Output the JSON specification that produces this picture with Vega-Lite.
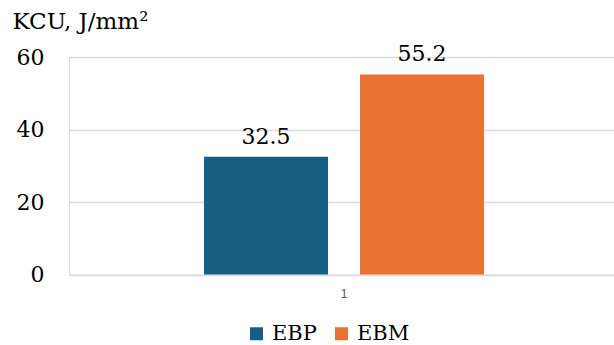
{
  "$schema": "https://vega.github.io/schema/vega-lite/v6.json",
  "autosize": {"type": "none"},
  "padding": {"left": 69, "top": 57, "right": 0, "bottom": 70.5},
  "width": 550,
  "height": 217.5,
  "background": "white",
  "data": {
    "values": [
      {"cat": "1", "series": "EBP", "value": 32.5},
      {"cat": "1", "series": "EBM", "value": 55.2}
    ]
  },
  "encoding": {
    "x": {
      "field": "cat",
      "type": "nominal",
      "scale": {"paddingOuter": 0.482, "paddingInner": 0},
      "axis": {
        "title": null,
        "labelAngle": 0,
        "ticks": false,
        "domain": false,
        "labelFont": "Liberation Sans",
        "labelFontSize": 12,
        "labelColor": "#595959",
        "labelPadding": 14
      }
    },
    "xOffset": {
      "field": "series",
      "type": "nominal",
      "sort": ["EBP", "EBM"],
      "scale": {"paddingInner": 0.205, "paddingOuter": 0}
    },
    "y": {
      "field": "value",
      "type": "quantitative",
      "scale": {"domain": [0, 60], "nice": false},
      "axis": {
        "values": [0, 20, 40, 60],
        "grid": true,
        "gridColor": "#d9d9d9",
        "gridWidth": 1.3,
        "domain": false,
        "ticks": false,
        "labelFont": "DejaVu Serif",
        "labelFontSize": 22,
        "labelColor": "#000000",
        "labelPadding": 25,
        "title": "KCU, J/mm²",
        "titleAngle": 0,
        "titleAlign": "left",
        "titleBaseline": "alphabetic",
        "titleX": -57,
        "titleY": -28.5,
        "titleFont": "DejaVu Serif",
        "titleFontSize": 23,
        "titleFontWeight": "normal",
        "titleColor": "#000000"
      }
    }
  },
  "layer": [
    {
      "mark": {"type": "bar"},
      "encoding": {
        "color": {
          "field": "series",
          "type": "nominal",
          "scale": {"domain": ["EBP", "EBM"], "range": ["#156082", "#E97132"]},
          "legend": {
            "orient": "none",
            "direction": "horizontal",
            "legendX": 177,
            "legendY": 266,
            "title": null,
            "symbolType": "square",
            "symbolSize": 169,
            "symbolStrokeWidth": 0,
            "symbolOpacity": 1,
            "labelFont": "DejaVu Serif",
            "labelFontSize": 21,
            "labelColor": "#000000",
            "labelOffset": 5,
            "columnPadding": 14
          }
        }
      }
    },
    {
      "mark": {
        "type": "text",
        "baseline": "alphabetic",
        "dy": -13,
        "font": "DejaVu Serif",
        "fontSize": 22,
        "color": "#000000"
      },
      "encoding": {
        "text": {"field": "value", "type": "quantitative", "format": ".1f"}
      }
    }
  ]
}
